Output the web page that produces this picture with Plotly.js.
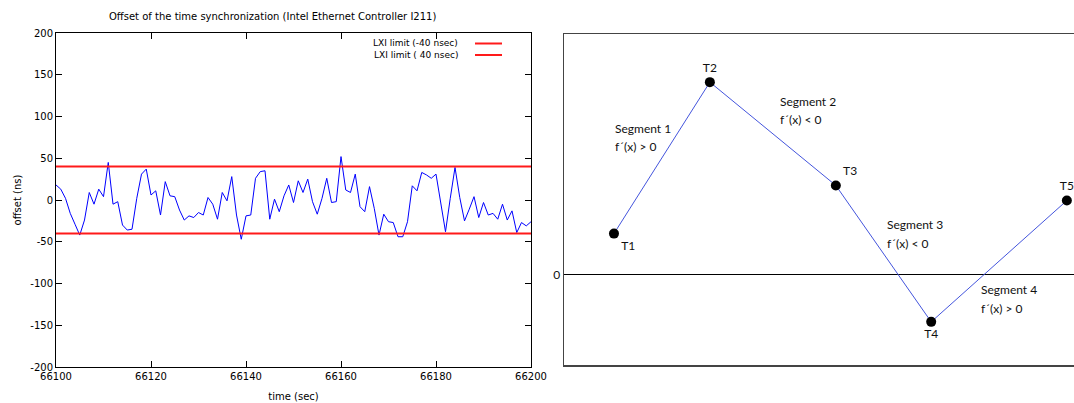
<!DOCTYPE html>
<html>
<head>
<meta charset="utf-8">
<script src="https://cdn.plot.ly/plotly-3.0.1.min.js"></script>
<style>html,body{margin:0;padding:0;background:#fff;}#chart{width:1074px;height:403px;}</style>
</head>
<body>
<div id="chart"></div>
<script>
// ---- Left chart data: offset of time synchronization ----
const timeStart = 66100;
const offsetNs = [18, 13, 2, -16, -29, -42, -24, 9, -5, 13, 4, 45, -5, -2, -30, -36, -35, 2, 31, 37,
  6, 11, -18, 22, 5, 4, -12, -24, -19, -21, -15, -18, 3, -5, -23, 9, -1, 28, -18, -47,
  -19, -18, 26, 34, 35, -23, 1, -14, 5, 18, -3, 23, 9, 25, -2, -17, 2, 26, -3, -2,
  52, 12, 9, 31, -8, -14, 16, -10, -42, -17, -26, -27, -44, -44, -26, 17, 11, 33, 30, 26,
  31, -2, -38, 2, 39, 3, -25, -11, 4, -21, -3, -18, -16, -23, -5, -24, -13, -39, -27, -31, -26];
const timeSec = offsetNs.map((_, i) => timeStart + i);
const limitNames = ["LXI limit (-40 nsec)", "LXI limit ( 40 nsec)"];
const limitValues = [-40, 40];
const xRange = [66100, 66200];
const yTicks = [-200, -150, -100, -50, 0, 50, 100, 150, 200];
const xTicks = [66100, 66120, 66140, 66160, 66180, 66200];
const yTickLabels = ["-200", "-150", "-100", "-50", "0", "50", "100", "150", "200"];
const xTickLabels = ["66100", "66120", "66140", "66160", "66180", "66200"];

// ---- Right chart data: segment diagram ----
const pointNames = ["T1", "T2", "T3", "T4", "T5"];
const pointX = [0.98, 2.86, 5.33, 7.2, 9.86];
const pointY = [0.41, 1.92, 0.89, -0.47, 0.74];
const pointLabelPos = ["bottom right", "top center", "top right", "bottom center", "top center"];
const segmentNames = ["Segment 1", "Segment 2", "Segment 3", "Segment 4"];
const segmentSlopes = ["f´(x) > 0", "f´(x) < 0", "f´(x) < 0", "f´(x) > 0"];
const segmentLabelX = [0.96, 4.19, 6.29, 8.14];
const segmentLabelY = [1.46, 1.732, 0.496, -0.152];

const gFont = "DejaVu Sans, sans-serif";
const cFont = "Lato, Open Sans, sans-serif";

const traces = [];
traces.push({
  x: timeSec, y: offsetNs, type: "scatter", mode: "lines",
  line: {color: "#0000ff", width: 1}, showlegend: false, xaxis: "x", yaxis: "y", hoverinfo: "x+y"
});
limitValues.forEach((v, i) => {
  traces.push({
    x: xRange, y: [v, v], type: "scatter", mode: "lines", name: limitNames[i],
    line: {color: "#ff1a1a", width: 2}, showlegend: false, xaxis: "x", yaxis: "y"
  });
});
traces.push({
  x: pointX, y: pointY, type: "scatter", mode: "lines+markers+text",
  text: pointNames, textposition: pointLabelPos,
  textfont: {family: cFont, size: 12, color: "#111"},
  line: {color: "#4455dd", width: 1},
  marker: {color: "#000", size: 10},
  showlegend: false, xaxis: "x2", yaxis: "y2", cliponaxis: false
});

const annotations = [];
// gnuplot style legend (text, then sample line on the right)
const legendRowsPx = [43.5, 55];
limitNames.forEach((n, i) => {
  annotations.push({
    xref: "paper", yref: "paper", x: 460 / 1074, y: 1 - legendRowsPx[i] / 403,
    xanchor: "right", yanchor: "middle", showarrow: false, text: n,
    font: {family: gFont, size: 9, color: "#000"}
  });
});
segmentNames.forEach((n, i) => {
  annotations.push({
    xref: "x2", yref: "y2", x: segmentLabelX[i], y: segmentLabelY[i],
    xanchor: "left", yanchor: "middle", showarrow: false, text: n,
    font: {family: cFont, size: 12, color: "#111"}
  });
  annotations.push({
    xref: "x2", yref: "y2", x: segmentLabelX[i], y: segmentLabelY[i] - 0.18,
    xanchor: "left", yanchor: "middle", showarrow: false, text: segmentSlopes[i],
    font: {family: cFont, size: 12, color: "#111"}
  });
});
annotations.push({
  xref: "paper", yref: "paper", x: 272 / 1074, y: 1 - 16 / 403,
  xanchor: "center", yanchor: "middle", showarrow: false,
  text: "Offset of the time synchronization (Intel Ethernet Controller I211)",
  font: {family: gFont, size: 10, color: "#000"}
});

const shapes = legendRowsPx.map(py => ({
  type: "line", xref: "paper", yref: "paper",
  x0: 475 / 1074, x1: 502 / 1074, y0: 1 - py / 403, y1: 1 - py / 403,
  line: {color: "#ff1a1a", width: 2}
}));

const layout = {
  width: 1074, height: 403,
  margin: {l: 0, r: 0, t: 0, b: 0},
  paper_bgcolor: "#fff", plot_bgcolor: "#fff",
  showlegend: false,
  xaxis: {
    domain: [56 / 1074, 531 / 1074], range: xRange, tickvals: xTicks, ticktext: xTickLabels,
    ticks: "inside", ticklen: 6, tickcolor: "#000", showline: true, linecolor: "#000", linewidth: 1,
    mirror: "ticks", showgrid: false, zeroline: false, automargin: false,
    tickfont: {family: gFont, size: 10, color: "#000"},
    title: {text: "time (sec)", font: {family: gFont, size: 10, color: "#000"}, standoff: 11}
  },
  yaxis: {
    domain: [36 / 403, 370 / 403], range: [-200, 200], tickvals: yTicks, ticktext: yTickLabels,
    ticks: "inside", ticklen: 6, tickcolor: "#000", showline: true, linecolor: "#000", linewidth: 1,
    mirror: "ticks", showgrid: false, zeroline: false, automargin: false,
    tickfont: {family: gFont, size: 10, color: "#000"},
    title: {text: "offset (ns)", font: {family: gFont, size: 10, color: "#000"}, standoff: 6}
  },
  xaxis2: {
    domain: [564 / 1074, 1], range: [0, 10], anchor: "y2",
    showticklabels: false, ticks: "", showgrid: false, zeroline: false,
    showline: true, mirror: true, linecolor: "#444", linewidth: 1.5, automargin: false
  },
  yaxis2: {
    domain: [38 / 403, 369 / 403], range: [-0.9, 2.4], anchor: "x2",
    tickvals: [0], ticktext: ["0"], ticks: "", showgrid: false,
    zeroline: true, zerolinecolor: "#000", zerolinewidth: 1.2,
    showline: true, mirror: false, linecolor: "#444", linewidth: 1.5, automargin: false,
    tickfont: {family: cFont, size: 12, color: "#111"}
  },
  annotations: annotations,
  shapes: shapes
};

Plotly.newPlot("chart", traces, layout, {displayModeBar: false, staticPlot: true});
</script>
</body>
</html>
